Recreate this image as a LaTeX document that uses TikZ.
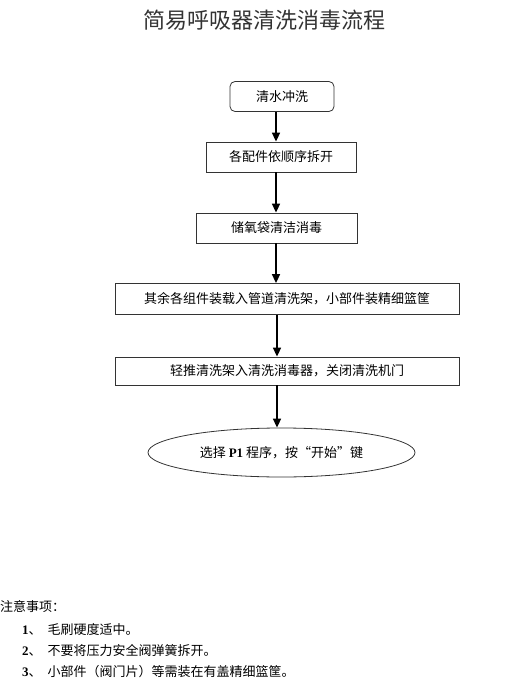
\documentclass[tikz,border=0pt]{standalone}
\usepackage{fontspec}
\setmainfont{Noto Sans CJK SC}
\newfontfamily\latinserif{Liberation Serif}
\usetikzlibrary{arrows.meta,shapes.geometric}
\begin{document}
\begin{tikzpicture}[x=1pt,y=-1pt,
  stepbox/.style={draw=black!80,line width=0.8pt,minimum height=30pt,font=\fontsize{13}{15}\selectfont,inner sep=0pt},
  flow/.style={line width=1.6pt,-{Triangle[length=9pt,width=8pt]}},
  note/.style={anchor=west,font=\fontsize{13}{15}\selectfont,inner sep=0pt}]
\useasboundingbox (0,0) rectangle (530,700);
\node[font=\fontsize{22}{26}\selectfont,text=black!80] (title) at (264,20) {简易呼吸器清洗消毒流程};
\node[stepbox,rounded corners=5pt,minimum width=104pt] (s1) at (282,96.5) {清水冲洗};
\node[stepbox,minimum width=150pt] (s2) at (281,157) {各配件依顺序拆开};
\node[stepbox,minimum width=161pt] (s3) at (276.5,228) {储氧袋清洁消毒};
\node[stepbox,minimum width=344pt,minimum height=31pt] (s4) at (287,299) {其余各组件装载入管道清洗架，小部件装精细篮筐};
\node[stepbox,minimum width=344pt,minimum height=28pt] (s5) at (287,371) {轻推清洗架入清洗消毒器，关闭清洗机门};
\node[ellipse,draw=black!80,line width=0.8pt,minimum width=267pt,minimum height=49pt,inner sep=0pt,font=\fontsize{13}{15}\selectfont] (s6) at (281.5,452.5) {选择 {\latinserif\bfseries P1} 程序，按“开始”键};
\draw[flow] (s1.south -| 276,0) -- (s2.north -| 276,0);
\draw[flow] (s2.south -| 276,0) -- (s3.north -| 276,0);
\draw[flow] (s3.south -| 276,0) -- (s4.north -| 276,0);
\draw[flow] (s4.south -| 277,0) -- (s5.north -| 277,0);
\draw[flow] (s5.south -| 277,0) -- (s6.north -| 277,0);
\node[note] (n0) at (0,607) {注意事项：};
\node[note] (n1) at (22,630) {{\latinserif\bfseries 1}、\hspace{6pt}毛刷硬度适中。};
\node[note] (n2) at (22,651) {{\latinserif\bfseries 2}、\hspace{6pt}不要将压力安全阀弹簧拆开。};
\node[note] (n3) at (22,672) {{\latinserif\bfseries 3}、\hspace{6pt}小部件（阀门片）等需装在有盖精细篮筐。};
\end{tikzpicture}
\end{document}
